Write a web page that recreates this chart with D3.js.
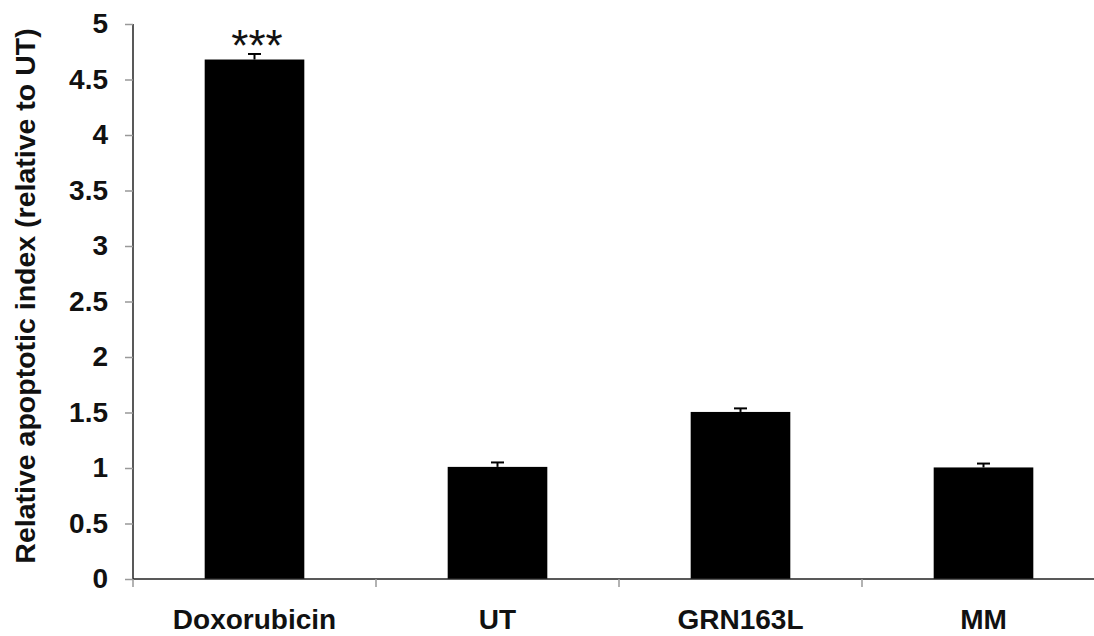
<!DOCTYPE html>
<html><head><meta charset="utf-8">
<script src="https://cdn.jsdelivr.net/npm/d3@7"></script>
<style>body{margin:0;background:#fff}</style>
</head><body>
<svg id="c" width="1094" height="636"></svg>
<script>
const categories = ["Doxorubicin", "UT", "GRN163L", "MM"];
const values = [4.68, 1.01, 1.505, 1.005];
const errors = [0.05, 0.04, 0.032, 0.035];
const yTicks = [0, 0.5, 1, 1.5, 2, 2.5, 3, 3.5, 4, 4.5, 5];
const annotations = ["***", "", "", ""];

(function () {
const svg = d3.select("#c");
const FONT = "Liberation Sans, Arial, Helvetica, sans-serif";
const mLeft = 133, mTop = 24, mBottom = 579, bandW = 243;
const x = d3.scaleBand().domain(categories).range([mLeft, mLeft + bandW * categories.length]).paddingInner(0.59).paddingOuter(0.295);
const y = d3.scaleLinear().domain([0, 5]).range([mBottom, mTop]);

const yAxis = d3.axisLeft(y).tickValues(yTicks).tickSize(8).tickPadding(17).tickFormat(d => d);
const gy = svg.append("g").attr("transform", `translate(${mLeft},0)`).call(yAxis);
gy.select(".domain").attr("stroke", "#222").attr("stroke-width", 1.5).attr("d", `M0,${mTop}V${mBottom}`);
gy.selectAll(".tick line").attr("stroke", "#999").attr("stroke-width", 1.5);
gy.selectAll(".tick text").attr("font-family", FONT).attr("font-weight", "bold").attr("font-size", 28).attr("fill", "#111");

svg.selectAll("rect.bar").data(categories).join("rect").attr("class", "bar")
  .attr("x", d => x(d)).attr("width", x.bandwidth())
  .attr("y", (d, i) => y(values[i])).attr("height", (d, i) => y(0) - y(values[i]))
  .attr("fill", "#000");

const eb = svg.append("g").attr("stroke", "#000").attr("stroke-width", 2);
categories.forEach((c, i) => {
  const cx = x(c) + x.bandwidth() / 2;
  eb.append("line").attr("x1", cx).attr("x2", cx).attr("y1", y(values[i])).attr("y2", y(values[i] + errors[i]));
  eb.append("line").attr("x1", cx - 6.5).attr("x2", cx + 6.5).attr("y1", y(values[i] + errors[i])).attr("y2", y(values[i] + errors[i]));
});

const xEnd = mLeft + bandW * categories.length;
svg.append("line").attr("x1", mLeft).attr("x2", xEnd).attr("y1", mBottom).attr("y2", mBottom).attr("stroke", "#222").attr("stroke-width", 1.5);
const bounds = d3.range(categories.length + 1).map(i => mLeft + i * bandW);
svg.selectAll("line.xt").data(bounds).join("line").attr("class", "xt")
  .attr("x1", d => d).attr("x2", d => d).attr("y1", mBottom).attr("y2", mBottom + 8)
  .attr("stroke", "#999").attr("stroke-width", 1.5);
svg.selectAll("text.xl").data(categories).join("text").attr("class", "xl")
  .attr("x", d => x(d) + x.bandwidth() / 2).attr("y", 629)
  .attr("text-anchor", "middle").attr("font-family", FONT)
  .attr("font-weight", "bold").attr("font-size", 28).attr("fill", "#111").text(d => d);

svg.selectAll("text.an").data(categories).join("text").attr("class", "an")
  .attr("x", d => x(d) + x.bandwidth() / 2 + 2.5).attr("y", (d, i) => y(values[i] + errors[i]) + 7)
  .attr("text-anchor", "middle").attr("font-family", FONT)
  .attr("font-size", 44).attr("fill", "#111").text((d, i) => annotations[i]);

svg.append("text").attr("transform", `translate(35,296) rotate(-90)`)
  .attr("text-anchor", "middle").attr("font-family", FONT)
  .attr("font-weight", "bold").attr("font-size", 28.5).attr("fill", "#111")
  .text("Relative apoptotic index (relative to UT)");
})();
</script>
</body></html>
